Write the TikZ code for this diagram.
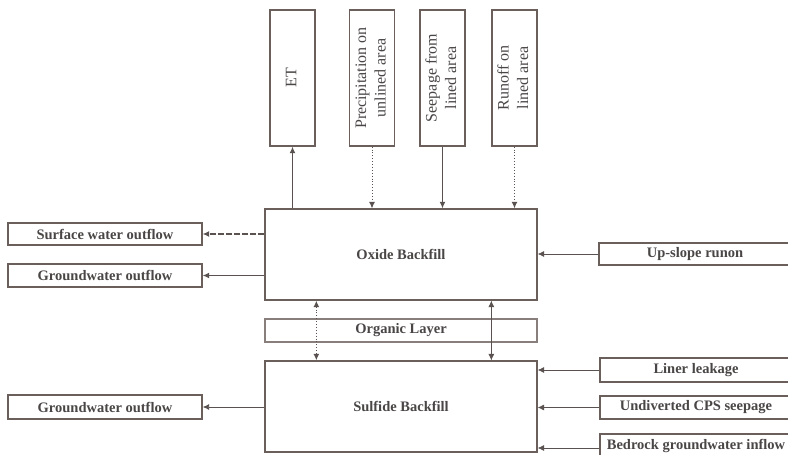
\documentclass[tikz,border=0pt]{standalone}
\usepackage{fontspec}
\setmainfont{Liberation Serif}
\usetikzlibrary{arrows.meta}
\definecolor{bord}{HTML}{6A5F5B}
\definecolor{txt}{HTML}{4A4646}
\definecolor{arr}{HTML}{5A5250}
\newcommand{\vlab}[1]{\rotatebox{90}{\begin{tabular}{@{}c@{}}#1\end{tabular}}}
\begin{document}
\begin{tikzpicture}[x=1pt,y=-1pt,
  box/.style={draw=bord,line width=1.3pt,fill=white,inner sep=0pt,text=txt,font=\fontsize{14.5}{17}\selectfont\bfseries},
  vbox/.style={draw=bord,line width=1.3pt,fill=white,inner sep=0pt,text=txt,minimum width=45pt,minimum height=136pt,
    font=\fontsize{16}{19.5}\selectfont},
  flow/.style={draw=arr,line width=0.9pt,-{Latex[length=6.5pt,width=6pt]}},
  flowb/.style={draw=arr,line width=0.9pt,{Latex[length=6.5pt,width=6pt]}-{Latex[length=6.5pt,width=6pt]}}]
\useasboundingbox (0,0) rectangle (788,455);
% top boxes
\node[vbox] (et) at (292.5,78) {\vlab{ET}};
\node[vbox] (pr) at (372,78) {\vlab{Precipitation on\\unlined area}};
\node[vbox] (se) at (442.5,78) {\vlab{Seepage from\\lined area}};
\node[vbox] (ro) at (514.5,78) {\vlab{Runoff on\\lined area}};
% central boxes
\node[box,minimum width=272pt,minimum height=91pt] (ox) at (401,254.5) {Oxide Backfill};
\node[box,minimum width=272pt,minimum height=23pt,draw=bord!80] (org) at (401,330.5) {Organic Layer};
\node[box,minimum width=272pt,minimum height=91pt] (su) at (401,406.5) {Sulfide Backfill};
% left boxes
\node[box,minimum width=194pt,minimum height=22pt] (sw) at (105,234) {Surface water outflow};
\node[box,minimum width=194pt,minimum height=23pt] (gw1) at (105,275.5) {Groundwater outflow};
\node[box,minimum width=194pt,minimum height=24pt] (gw2) at (105,407) {Groundwater outflow};
% right boxes
\node[box,minimum width=192pt,minimum height=22pt] (up) at (695,254) {Up-slope runon};
\node[box,minimum width=192pt,minimum height=24pt] (ll) at (696,370) {Liner leakage};
\node[box,minimum width=192pt,minimum height=23pt] (cps) at (696,407.5) {Undiverted CPS seepage};
\node[box,minimum width=192pt,minimum height=24pt] (bed) at (696,446) {Bedrock groundwater inflow};
% top arrows
\draw[flow,line width=1.6pt] (et.south |- ox.north) -- (et.south);
\draw[flow,dotted] (pr.south) -- (pr.south |- ox.north);
\draw[flow,line width=1.6pt] (se.south) -- (se.south |- ox.north);
\draw[flow,dotted,line width=1.1pt] (ro.south) -- (ro.south |- ox.north);
% left arrows
\draw[flow,line width=1.1pt,dash pattern=on 6pt off 2pt] (ox.west |- sw.east) -- (sw.east);
\draw[flow,line width=1.3pt] (ox.west |- gw1.east) -- (gw1.east);
\draw[flow] (su.west |- gw2.east) -- (gw2.east);
% right arrows
\draw[flow,line width=0.7pt] (up.west) -- (up.west -| ox.east);
\draw[flow,line width=0.7pt] (ll.west) -- (ll.west -| su.east);
\draw[flow,line width=0.7pt] (cps.west) -- (cps.west -| su.east);
\draw[flow,line width=0.7pt] ([yshift=-2pt]bed.west) -- ([yshift=-2pt]bed.west -| su.east);
% vertical exchanges
\draw[flowb,dotted,line width=1.1pt] ([xshift=52pt]ox.south west) -- ([xshift=52pt]su.north west);
\draw[flowb,line width=0.6pt] ([xshift=227pt]ox.south west) -- ([xshift=227pt]su.north west);
\end{tikzpicture}
\end{document}
